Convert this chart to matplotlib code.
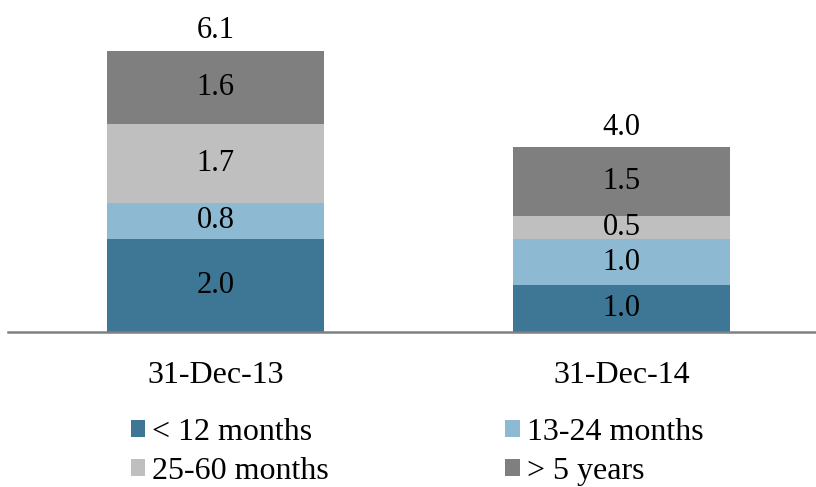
import matplotlib
matplotlib.use("Agg")
import matplotlib.pyplot as plt
import numpy as np

# maturity buckets per reporting date
dates = ["31-Dec-13", "31-Dec-14"]
buckets = ["< 12 months", "13-24 months", "25-60 months", "> 5 years"]
lt12 = [2.0, 1.0]
m13_24 = [0.8, 1.0]
m25_60 = [1.7, 0.5]
gt5y = [1.6, 1.5]
totals = [6.1, 4.0]

colors = ["#3e7796", "#8dbad2", "#bfbfbf", "#7f7f7f"]

plt.rcParams["font.family"] = ["Liberation Serif", "DejaVu Serif"]

fig = plt.figure(figsize=(8.16, 4.87), dpi=100)
ax = fig.add_axes([8 / 816, (487 - 331.5) / 487, 808 / 816, 331.5 / 487])

x = np.arange(len(dates))
width = 0.534
series = [lt12, m13_24, m25_60, gt5y]
bottom = np.zeros(len(dates))
bars = []
for vals, c, name in zip(series, colors, buckets):
    b = ax.bar(x, vals, width, bottom=bottom, color=c, label=name, edgecolor="none")
    bars.append(b)
    for xi, v, b0 in zip(x, vals, bottom):
        ax.text(xi, b0 + v / 2, f"{v:.1f}", ha="center", va="center",
                fontsize=22, color="black")
    bottom += np.array(vals)

for xi, t, top in zip(x, totals, bottom):
    ax.text(xi, top + 0.12, f"{t:.1f}", ha="center", va="bottom",
            fontsize=22, color="black")

ax.set_xlim(-0.511, 1.479)
ax.set_ylim(0, 7.2)
ax.set_yticks([])
ax.set_xticks(x)
ax.set_xticklabels(dates, fontsize=23)
ax.tick_params(axis="x", length=0, pad=21)
for s in ["top", "right", "left"]:
    ax.spines[s].set_visible(False)
ax.spines["bottom"].set_color("#808080")
ax.spines["bottom"].set_linewidth(1.8)

# legend reads row-wise: reorder for column-wise fill
order = [0, 2, 1, 3]
handles = [bars[i] for i in order]
labels = [buckets[i] for i in order]
fig.legend(handles, labels, ncol=2, loc="upper left",
           bbox_to_anchor=(131 / 816, 1 - 418 / 487), frameon=False,
           fontsize=23, handlelength=0.45, handleheight=0.45,
           handletextpad=0.22, columnspacing=5.52, labelspacing=0.32,
           borderaxespad=0, borderpad=0)

fig.savefig("out.png", dpi=100)
